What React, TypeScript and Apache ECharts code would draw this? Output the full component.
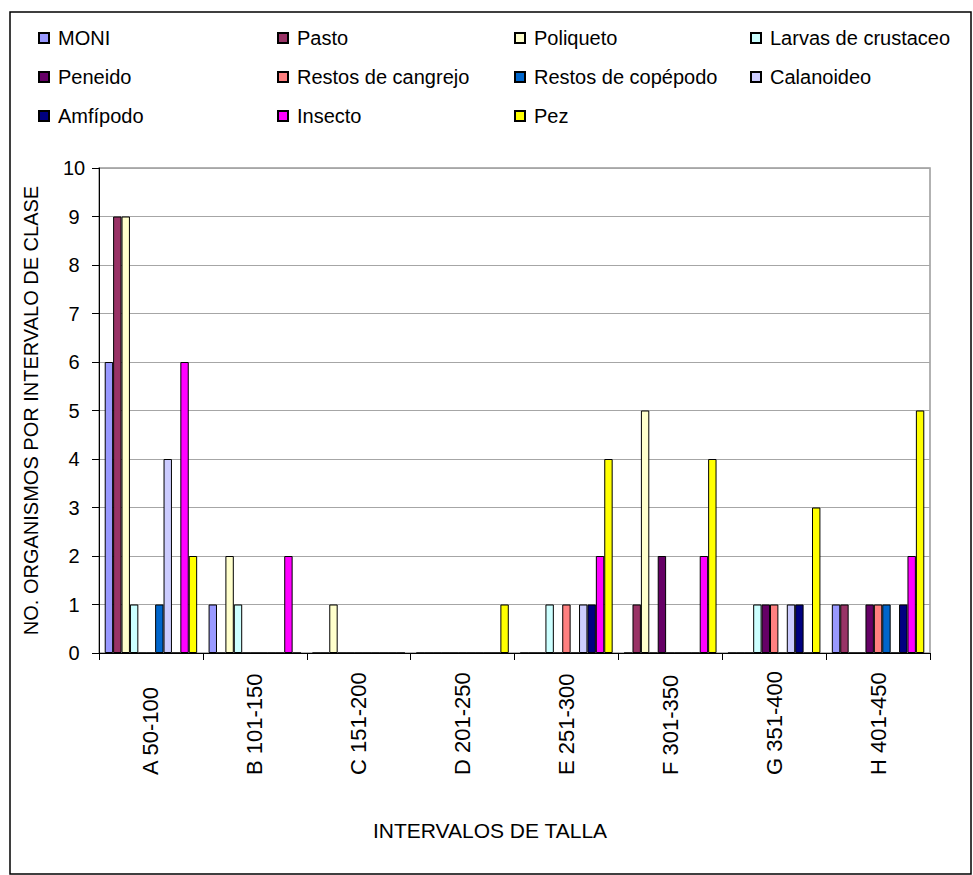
import React, { useEffect, useRef } from "react";
import * as echarts from "echarts";

// Size classes (x axis)
const categories = [
  "A 50-100",
  "B 101-150",
  "C 151-200",
  "D 201-250",
  "E 251-300",
  "F 301-350",
  "G 351-400",
  "H 401-450",
];

// Counts of organisms per size class, one array per diet item
const moni = [6, 1, 0, 0, 0, 0, 0, 1];
const pasto = [9, 0, 0, 0, 0, 1, 0, 1];
const poliqueto = [9, 2, 1, 0, 0, 5, 0, 0];
const larvasCrustaceo = [1, 1, 0, 0, 1, 0, 1, 0];
const peneido = [0, 0, 0, 0, 0, 2, 1, 1];
const restosCangrejo = [0, 0, 0, 0, 1, 0, 1, 1];
const restosCopepodo = [1, 0, 0, 0, 0, 0, 0, 1];
const calanoideo = [4, 0, 0, 0, 1, 0, 1, 0];
const amfipodo = [0, 0, 0, 0, 1, 0, 1, 1];
const insecto = [6, 2, 0, 0, 2, 2, 0, 2];
const pez = [2, 0, 0, 1, 4, 4, 3, 5];

const seriesNames = [
  "MONI",
  "Pasto",
  "Poliqueto",
  "Larvas de crustaceo",
  "Peneido",
  "Restos de cangrejo",
  "Restos de copépodo",
  "Calanoideo",
  "Amfípodo",
  "Insecto",
  "Pez",
];
const seriesValues = [
  moni,
  pasto,
  poliqueto,
  larvasCrustaceo,
  peneido,
  restosCangrejo,
  restosCopepodo,
  calanoideo,
  amfipodo,
  insecto,
  pez,
];
const seriesColors = [
  "#9999FF",
  "#993366",
  "#FFFFCC",
  "#CCFFFF",
  "#660066",
  "#FF8080",
  "#0066CC",
  "#CCCCFF",
  "#000080",
  "#FF00FF",
  "#FFFF00",
];

const yTicks = [0, 10];

const FONT = "'Liberation Sans', Arial, sans-serif";

export default function App() {
  const ref = useRef<HTMLDivElement>(null);

  useEffect(() => {
    if (!ref.current) return;
    const chart = echarts.init(ref.current, null, { renderer: "svg" });

    const legendCols = [38, 277, 514, 750];
    const legendRows = [28, 67, 106];

    const legends = seriesNames.map((name, i) => ({
      show: true,
      data: [name],
      left: legendCols[i % 4],
      top: legendRows[Math.floor(i / 4)],
      padding: 0,
      itemWidth: 10,
      itemHeight: 10,
      icon: "rect",
      selectedMode: false,
      textStyle: {
        fontFamily: FONT,
        fontSize: 20,
        color: "#000",
        padding: [0, 0, 0, 4],
      },
    }));

    const series = seriesNames.map((name, i) => ({
      name,
      type: "bar",
      data: seriesValues[i],
      barGap: "0%",
      barCategoryGap: "11%",
      itemStyle: {
        color: seriesColors[i],
        borderColor: "#000",
        borderWidth: 1,
      },
    }));

    chart.setOption({
      animation: false,
      backgroundColor: "#fff",
      textStyle: { fontFamily: FONT },
      legend: legends,
      grid: {
        left: 99,
        top: 168,
        width: 831,
        height: 485,
        show: true,
        borderColor: "#999",
        borderWidth: 1.5,
        backgroundColor: "transparent",
      },
      xAxis: {
        type: "category",
        data: categories,
        axisLine: { show: true, lineStyle: { color: "#000", width: 1 } },
        axisTick: { show: true, length: 7, lineStyle: { color: "#000" } },
        axisLabel: {
          rotate: 90,
          align: "left",
          margin: 122,
          fontSize: 22,
          fontFamily: FONT,
          color: "#000",
          interval: 0,
        },
        splitLine: { show: false },
      },
      yAxis: {
        type: "value",
        min: yTicks[0],
        max: yTicks[1],
        interval: 1,
        name: "NO. ORGANISMOS POR INTERVALO DE CLASE",
        nameLocation: "middle",
        nameRotate: 90,
        nameGap: 58,
        nameTextStyle: { fontSize: 20, fontFamily: FONT, color: "#000" },
        axisLine: { show: true, lineStyle: { color: "#000", width: 1 } },
        axisTick: { show: true, length: 7, lineStyle: { color: "#000" } },
        axisLabel: {
          margin: 25,
          align: "center",
          fontSize: 20,
          fontFamily: FONT,
          color: "#000",
        },
        splitLine: { show: true, lineStyle: { color: "#a6a6a6", width: 1 } },
      },
      graphic: [
        {
          type: "rect",
          shape: { x: 10, y: 12, width: 961, height: 862 },
          style: { fill: "none", stroke: "#000", lineWidth: 1.5 },
          z: 100,
        },
        {
          type: "text",
          x: 490,
          y: 830,
          style: {
            text: "INTERVALOS DE TALLA",
            fontSize: 21,
            fontFamily: FONT,
            fill: "#000",
            align: "center",
            verticalAlign: "middle",
          },
        },
      ],
      series,
    });

    return () => chart.dispose();
  }, []);

  return (
    <div
      ref={ref}
      style={{ position: "absolute", left: 0, top: 0, width: 973, height: 875 }}
    />
  );
}
